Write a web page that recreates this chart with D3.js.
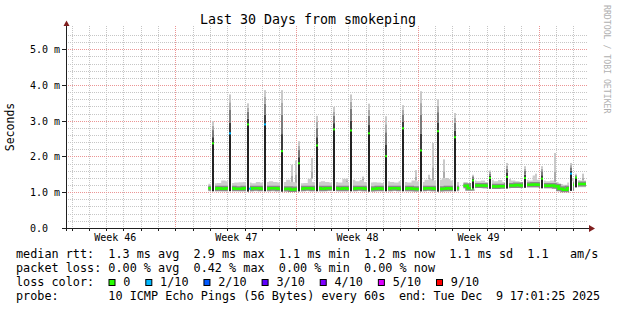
<!DOCTYPE html>
<html>
<head>
<meta charset="utf-8">
<script src="https://cdn.jsdelivr.net/npm/d3@7"></script>
<style>
body{margin:0;background:#fff;}
svg{display:block;font-family:"DejaVu Sans Mono",monospace;}
text{white-space:pre;}
</style>
</head>
<body>
<svg id="chart" width="617" height="310"></svg>
<script>
// ---------- data ----------
const startTime = new Date(Date.UTC(2025,10,9,17,1,25));
const endTime = new Date(Date.UTC(2025,11,9,17,1,25));
const titleText = "Last 30 Days from smokeping";
const yLabel = "Seconds";
const yTicks = [0,1,2,3,4,5];
const yTickLabels = ["0.0","1.0 m","2.0 m","3.0 m","4.0 m","5.0 m"];
const weekStarts = ["2025-11-09","2025-11-16","2025-11-23","2025-11-30"];
const weekLabels = ["Week 46","Week 47","Week 48","Week 49"];

// baseline samples, 6h apart, first one at Nov 17 21:00 UTC (null = no data)
const sampleStart = Date.UTC(2025,10,17,21);
const sampleHours = 6;
const baseMedian = [1.12,1.11,1.12,1.11,1.12, 1.12,1.11,1.11,1.12, 1.11,1.12,1.12,1.11, 1.11,1.12,1.12,1.11,
  1.10,1.11,1.09,1.10, 1.11,1.12,1.12,1.11, 1.12,1.11,1.12,1.12, 1.12,1.11,1.12,1.11, 1.11,1.12,1.12,1.11,
  1.10,1.11,1.12,1.11, 1.11,1.12,1.12,1.11, 1.11,1.12,1.11,1.10, 1.11,1.12,1.12,1.11, 1.10,1.11,1.12,1.11,
  1.12, null,
  1.19,1.12, 1.20,1.20,1.20,1.19, 1.18,1.17,1.18,1.18, 1.20,1.20,1.21,1.20, 1.22,1.22,1.23,1.22,
  1.20,1.19,1.20,1.18, 1.11,1.08,1.12,1.22, 1.24,1.24,1.24];
const baseMax = [1.25,1.26,1.27,1.34,1.32, 1.27,1.28,1.29,1.30, 1.28,1.26,1.30,1.28, 1.30,1.32,1.30,1.28,
  1.30,1.36,1.30,1.28, 1.26,1.27,1.39,1.30, 1.30,1.32,1.30,1.28, 1.30,1.28,1.39,1.30, 1.36,1.32,1.35,1.30,
  1.28,1.29,1.28,1.27, 1.32,1.30,1.28,1.32, 1.30,1.28,1.34,1.32, 1.30,1.36,1.38,1.34, 1.36,1.41,1.38,1.34,
  1.30, null,
  1.30,1.24, 1.34,1.32,1.34,1.30, 1.36,1.32,1.35,1.30, 1.38,1.34,1.32,1.30, 1.36,1.34,1.48,1.36,
  1.34,1.32,1.34,1.30, 1.24,1.22,1.28,1.38, 1.35,1.34,1.34];
const baseMin = [1.04,1.04,1.05,1.04,1.04, 1.04,1.05,1.04,1.04, 1.03,1.04,1.04,1.05, 1.04,1.04,1.03,1.04,
  1.03,1.04,1.02,1.03, 1.04,1.05,1.04,1.04, 1.04,1.04,1.05,1.04, 1.05,1.04,1.04,1.04, 1.04,1.05,1.04,1.04,
  1.03,1.04,1.05,1.04, 1.04,1.04,1.05,1.04, 1.04,1.04,1.03,1.03, 1.04,1.05,1.04,1.04, 1.03,1.04,1.04,1.04,
  1.04, null,
  1.12,1.06, 1.12,1.13,1.12,1.12, 1.11,1.10,1.11,1.11, 1.12,1.13,1.13,1.12, 1.14,1.14,1.14,1.14,
  1.12,1.12,1.12,1.10, 1.04,1.02,1.05,1.14, 1.15,1.15,1.15];

// short high-latency events (median spike + smoke max)
const spikeTimes = ["2025-11-18T03:30Z","2025-11-19T03:30Z","2025-11-20T03:30Z","2025-11-21T03:30Z",
  "2025-11-22T03:30Z","2025-11-23T03:30Z","2025-11-24T03:30Z","2025-11-25T03:30Z","2025-11-26T03:30Z",
  "2025-11-27T03:30Z","2025-11-28T03:30Z","2025-11-29T03:30Z","2025-11-30T03:30Z","2025-12-01T03:30Z",
  "2025-12-02T03:30Z","2025-12-03T04:00Z","2025-12-04T04:00Z","2025-12-05T04:00Z","2025-12-06T04:00Z",
  "2025-12-07T04:00Z","2025-12-08T19:40Z","2025-12-09T03:40Z"];
const spikeMedian = [2.38,2.66,2.91,2.91,2.16,1.82,2.32,2.77,2.74,2.66,2.02,2.80,2.18,2.72,2.55,
  1.34,1.41,1.44,1.41,1.39,1.53,1.42];
const spikeMax = [3.00,3.75,3.50,3.87,3.87,2.44,3.15,3.40,3.75,3.49,3.14,3.45,3.84,3.61,3.23,
  1.50,1.62,1.83,1.74,1.74,1.83,1.53];
const spikeLoss = [0,1,0,1,0,0,0,0,0,0,0,0,0,0,0, 0,0,0,0,0,1,0];

// smoke bursts without a median spike
const burstTimes = ["2025-11-22T17:50Z","2025-11-22T23:20Z","2025-11-23T20:20Z","2025-11-25T21:00Z",
  "2025-11-26T19:40Z","2025-11-29T20:45Z","2025-11-30T15:10Z","2025-11-30T21:25Z","2025-12-01T12:00Z",
  "2025-12-01T15:45Z","2025-12-06T19:40Z","2025-12-07T22:00Z","2025-12-09T12:50Z"];
const burstMax = [1.78,1.90,1.97,1.40,1.45,1.63,1.50,2.39,1.93,1.41,1.53,2.11,1.53];

// baseline loss markers
const lossTimes = ["2025-11-20T07:00Z"];
const lossLevel = [1];

// legend
const rttValues = [1.3,2.9,1.1,1.2,1.1];
const rttLabels = ["avg","max","min","now","sd"];
const amS = 1.1;
const lossValues = [0.00,0.42,0.00,0.00];
const lossStatLabels = ["avg","max","min","now"];
const lossLabels = ["0","1/10","2/10","3/10","4/10","5/10","9/10"];
const lossColors = ["#26ff00","#00b8ff","#0059ff","#5e00ff","#7e00ff","#dd00ff","#ff0000"];
const probeText = "10 ICMP Echo Pings (56 Bytes) every 60s";
const endText = "end: Tue Dec  9 17:01:25 2025";

// ---------- drawing ----------
const svg = d3.select("#chart");
const x = d3.scaleUtc().domain([startTime,endTime]).range([67,586]);
const y = d3.scaleLinear().domain([0,5.6]).range([228.3,28.4]);
const px = v => Math.floor(v)+0.5;
const axisColor = "#1f1f1f", arrowColor = "#801f1f";
const minorColor = "#c6c6c6", majorColor = "#eb9595";

// grid
const grid = svg.append("g").attr("shape-rendering","crispEdges");
const minorY = y.ticks(28).filter(v => Math.abs(v-Math.round(v))>1e-6 && v<5.55);
grid.selectAll(".hmin").data(minorY).join("line")
    .attr("x1",68).attr("x2",588).attr("y1",d=>px(y(d))).attr("y2",d=>px(y(d)))
    .attr("stroke",minorColor).attr("stroke-dasharray","1,1");
const majorX = d3.utcSunday.range(startTime,endTime);
const minorX = d3.utcDay.range(startTime,endTime).filter(d=>d.getUTCDay()!==0);
grid.selectAll(".vmin").data(minorX).join("line")
    .attr("x1",d=>px(x(d))).attr("x2",d=>px(x(d))).attr("y1",26).attr("y2",228)
    .attr("stroke",minorColor).attr("stroke-dasharray","1,1");
grid.selectAll(".hmaj").data(yTicks.filter(v=>v>0)).join("line")
    .attr("x1",68).attr("x2",588).attr("y1",d=>px(y(d))).attr("y2",d=>px(y(d)))
    .attr("stroke",majorColor).attr("stroke-dasharray","1,1");
grid.selectAll(".vmaj").data(majorX).join("line")
    .attr("x1",d=>px(x(d))).attr("x2",d=>px(x(d))).attr("y1",26).attr("y2",228)
    .attr("stroke",majorColor).attr("stroke-dasharray","1,1");

// baseline samples as step points
const stepMs = sampleHours*3600e3;
const samples = baseMedian.map((m,i)=>({
    t0:new Date(sampleStart+i*stepMs),
    t1:new Date(Math.min(sampleStart+(i+1)*stepMs, +endTime)),
    med:m, lo:baseMin[i], hi:baseMax[i]}));
const stepPts = [];
samples.forEach(s=>{ stepPts.push({t:s.t0,med:s.med,lo:s.lo,hi:s.hi}); stepPts.push({t:s.t1,med:s.med,lo:s.lo,hi:s.hi}); });
const sampleAt = t => samples.find(s=>t>=s.t0 && t<s.t1) || samples[samples.length-1];

const plot = svg.append("g");
const smokeArea = d3.area().defined(d=>d.med!=null)
    .x(d=>x(d.t)).y0(d=>y(d.lo)).y1(d=>y(d.hi));
plot.append("path").datum(stepPts).attr("d",smokeArea).attr("fill","#cdcdcd");

// bursts
const bursts = burstTimes.map((t,i)=>({t:new Date(t),max:burstMax[i]}));
bursts.forEach(b=>{
    const xc = Math.round(x(b.t)), s = sampleAt(b.t);
    const mid = s.hi + 0.35*(b.max-s.hi);
    plot.append("rect").attr("x",xc-1).attr("width",2)
        .attr("y",y(b.max)).attr("height",y(mid)-y(b.max)).attr("fill","#c9c9c9");
    plot.append("rect").attr("x",xc-1).attr("width",2)
        .attr("y",y(mid)).attr("height",y(s.hi)-y(mid)).attr("fill","#aaaaaa");
});

// dark smoke band and median line
const medLine = d3.line().defined(d=>d.med!=null).x(d=>x(d.t)).y(d=>y(d.med));
plot.append("path").datum(stepPts).attr("d",medLine)
    .attr("fill","none").attr("stroke","#8a8a8a").attr("stroke-width",5);
plot.append("path").datum(stepPts).attr("d",medLine)
    .attr("fill","none").attr("stroke",lossColors[0]).attr("stroke-width",2.5);

// spikes
const bands = [[0,0.28,"#3c3c3c"],[0.28,0.6,"#7a7a7a"],[0.6,0.8,"#a9a9a9"],[0.8,1,"#c9c9c9"]];
spikeTimes.forEach((ts,i)=>{
    const t = new Date(ts), xc = Math.round(x(t)), s = sampleAt(t);
    const med = spikeMedian[i], mx = spikeMax[i];
    plot.append("rect").attr("x",xc-2).attr("width",1).attr("y",y(s.hi+0.05)).attr("height",y(s.lo-0.03)-y(s.hi+0.05)).attr("fill","#fff");
    plot.append("rect").attr("x",xc+1).attr("width",1).attr("y",y(s.hi+0.05)).attr("height",y(s.lo-0.03)-y(s.hi+0.05)).attr("fill","#fff");
    bands.forEach(([f0,f1,c])=>{
        const a = y(med+f1*(mx-med)), b = y(med+f0*(mx-med));
        plot.append("rect").attr("x",xc-1).attr("width",2).attr("y",a).attr("height",b-a).attr("fill",c);
    });
    plot.append("rect").attr("x",xc-1).attr("width",2)
        .attr("y",y(med)).attr("height",y(s.lo)-y(med)).attr("fill","#222");
    plot.append("rect").attr("x",xc-1).attr("width",2)
        .attr("y",y(med)-1).attr("height",2).attr("fill",lossColors[spikeLoss[i]]);
});

// baseline loss markers
lossTimes.forEach((ts,i)=>{
    const t = new Date(ts), s = sampleAt(t);
    plot.append("rect").attr("x",Math.round(x(t))-1).attr("width",2)
        .attr("y",y(s.med)-1).attr("height",2).attr("fill",lossColors[lossLevel[i]]);
});

// axes
const ax = svg.append("g");
ax.append("line").attr("x1",63).attr("x2",589).attr("y1",228.5).attr("y2",228.5).attr("stroke",axisColor);
ax.append("line").attr("x1",66.5).attr("x2",66.5).attr("y1",231).attr("y2",25).attr("stroke",axisColor);
ax.selectAll(".ytick").data(yTicks).join("line")
    .attr("x1",62).attr("x2",66).attr("y1",d=>px(y(d))).attr("y2",d=>px(y(d))).attr("stroke",axisColor);
ax.selectAll(".xtick").data(minorX.concat(majorX)).join("line")
    .attr("x1",d=>px(x(d))).attr("x2",d=>px(x(d))).attr("y1",229).attr("y2",231).attr("stroke",axisColor);
ax.append("path").attr("d","M63.5,26 L69.5,26 L66.5,20.5 Z").attr("fill",arrowColor);
ax.append("path").attr("d","M589,225 L589,232 L595,228.5 Z").attr("fill",arrowColor);

// tick labels
svg.selectAll(".ylab").data(yTicks).join("text")
    .attr("x",30).attr("y",d=>y(d)+3.5).attr("font-size","10px").attr("fill","#000")
    .text((d,i)=>yTickLabels[i]);
svg.selectAll(".xlab").data(weekStarts).join("text")
    .attr("x",d=>x(d3.utcHour.offset(new Date(d+"T00:00Z"),84)))
    .attr("y",240.5).attr("text-anchor","middle").attr("font-size","10px")
    .text((d,i)=>weekLabels[i]);

// titles
svg.append("text").attr("x",308).attr("y",23.5).attr("text-anchor","middle")
    .attr("font-size","13.3px").text(titleText);
svg.append("text").attr("transform","translate(14,127) rotate(-90)").attr("text-anchor","middle")
    .attr("font-size","11.5px").text(yLabel);
svg.append("text").attr("transform","translate(603.5,5) rotate(90)")
    .attr("font-size","8.2px").attr("fill","#b0b0b0").text("RRDTOOL / TOBI OETIKER");

// legend
const fs = "11.8px", charW = 7.11;
const line1 = "median rtt:  " + rttValues.map((v,i)=>`${v.toFixed(1)} ms ${rttLabels[i]}`).join("  ")
    + "  " + amS.toFixed(1) + "   am/s";
const line2 = "packet loss: " + lossValues.map((v,i)=>`${v.toFixed(2)} % ${lossStatLabels[i]}`).join("  ");
svg.append("text").attr("x",16).attr("y",258).attr("font-size",fs).text(line1);
svg.append("text").attr("x",16).attr("y",272).attr("font-size",fs).text(line2);
svg.append("text").attr("x",16).attr("y",286).attr("font-size",fs).text("loss color:");
let pos = 108.5;
lossLabels.forEach((l,i)=>{
    svg.append("rect").attr("x",pos+0.5).attr("y",279.5).attr("width",6).attr("height",6)
        .attr("fill",lossColors[i]).attr("stroke","#000").attr("stroke-width",1);
    const tx = pos+14.8;
    svg.append("text").attr("x",tx).attr("y",286).attr("font-size",fs).text(l);
    pos = tx + l.length*charW + 14.9;
});
svg.append("text").attr("x",16).attr("y",300).attr("font-size",fs).text("probe:       "+probeText);
svg.append("text").attr("x",600).attr("y",300).attr("text-anchor","end").attr("font-size",fs)
    .attr("textLength",201).attr("lengthAdjust","spacing").text(endText);
</script>
</body>
</html>
